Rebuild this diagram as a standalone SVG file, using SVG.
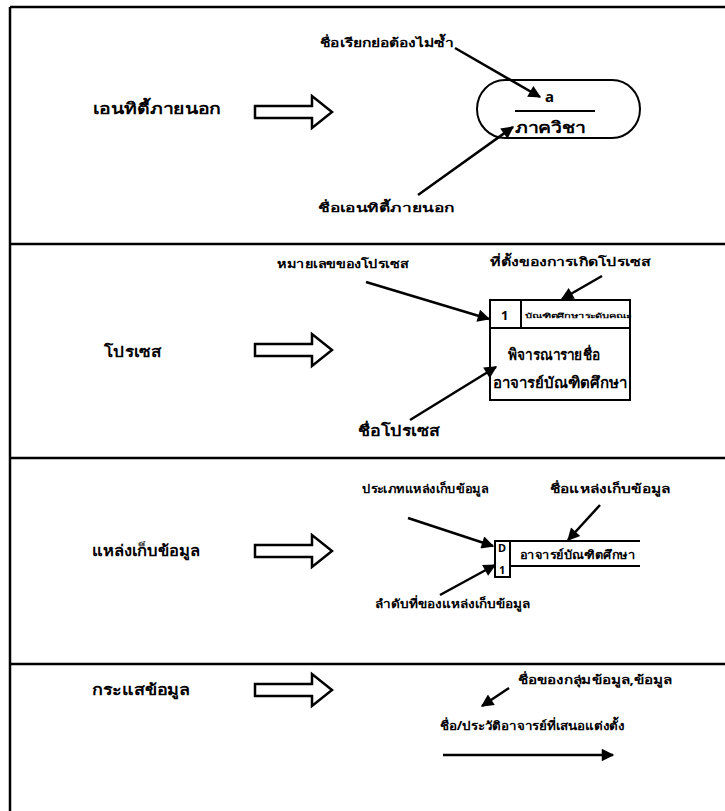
<svg xmlns="http://www.w3.org/2000/svg" width="725" height="811" viewBox="0 0 725 811">
<defs>
<style>
.t{font-family:"Noto Sans","DejaVu Sans",sans-serif;font-weight:bold;fill:#000}
.lb{font-size:15px}
.sm{font-size:12px}
.ln{stroke:#000;stroke-width:2.5;fill:none}
.sh{stroke:#000;stroke-width:2;fill:none}
.ha{stroke:#000;stroke-width:2.5;fill:#fff;stroke-linejoin:miter}
</style>
<marker id="ah" viewBox="0 0 10 10" refX="9" refY="5" markerWidth="6" markerHeight="5" orient="auto" markerUnits="strokeWidth">
<path d="M0,0 L10,5 L0,10 z" fill="#000"/>
</marker>
</defs>
<rect width="725" height="811" fill="#fff"/>
<g id="frame">
<line class="ln" x1="10" y1="7" x2="725" y2="7"/>
<line class="ln" x1="10" y1="7" x2="10" y2="811"/>
<line class="ln" x1="10" y1="244" x2="725" y2="244"/>
<line class="ln" x1="10" y1="458" x2="725" y2="458"/>
<line class="ln" x1="10" y1="664" x2="725" y2="664"/>
</g>
<g id="sec1">
<g id="lbl-entity"><text class="t lb" x="93" y="114" textLength="128" lengthAdjust="spacingAndGlyphs">เอนทิตี้ภายนอก</text></g>
<g id="harrow1"><polygon class="ha" points="255,106 312,106 312,96 332,112 312,128 312,118 255,118"/></g>
<g id="entity">
<path class="sh" d="M505,80 H612 A28,29 0 0 1 612,138 H505 A28,29 0 0 1 505,80 Z"/>
<line class="sh" x1="515" y1="111" x2="595" y2="111"/>
<text class="t lb" x="545" y="102">a</text>
<text class="t lb" x="515" y="133" textLength="70" lengthAdjust="spacingAndGlyphs">ภาควิชา</text>
</g>
<g id="note1a"><text class="t sm" x="320" y="47" textLength="134" lengthAdjust="spacingAndGlyphs">ชื่อเรียกย่อต้องไม่ซ้ำ</text></g>
<g id="note1b"><text class="t sm" x="318" y="212" textLength="136" lengthAdjust="spacingAndGlyphs">ชื่อเอนทิตี้ภายนอก</text></g>
</g>
<g id="sec2">
<g id="lbl-process"><text class="t lb" x="104" y="357" textLength="57" lengthAdjust="spacingAndGlyphs">โปรเซส</text></g>
<g id="harrow2"><polygon class="ha" points="255,344 312,344 312,334 332,350 312,366 312,356 255,356"/></g>
<g id="process">
<rect class="sh" x="490" y="300" width="140" height="100"/>
<line class="sh" x1="490" y1="328" x2="630" y2="328"/>
<line class="sh" x1="521" y1="300" x2="521" y2="328"/>
<text class="t" font-size="13" x="501" y="320">1</text>
<text class="t" font-size="6.5" x="525" y="318" textLength="106" lengthAdjust="spacingAndGlyphs">บัณฑิตศึกษาระดับคณะ</text>
<text class="t lb" x="508" y="360" textLength="92" lengthAdjust="spacingAndGlyphs">พิจารณารายชื่อ</text>
<text class="t lb" x="493" y="388" textLength="134" lengthAdjust="spacingAndGlyphs">อาจารย์บัณฑิตศึกษา</text>
</g>
<g id="note2a"><text class="t sm" x="277" y="268" textLength="131" lengthAdjust="spacingAndGlyphs">หมายเลขของโปรเซส</text></g>
<g id="note2b"><text class="t sm" x="490" y="266" textLength="160" lengthAdjust="spacingAndGlyphs">ที่ตั้งของการเกิดโปรเซส</text></g>
<g id="note2c"><text class="t lb" x="358" y="436" textLength="82" lengthAdjust="spacingAndGlyphs">ชื่อโปรเซส</text></g>
</g>
<g id="sec3">
<g id="lbl-store"><text class="t lb" x="92" y="556" textLength="108" lengthAdjust="spacingAndGlyphs">แหล่งเก็บข้อมูล</text></g>
<g id="harrow3"><polygon class="ha" points="255,545 312,545 312,535 332,551 312,567 312,557 255,557"/></g>
<g id="store">
<path class="sh" d="M640,541 H495 V577 H510 V541 M510,566 H640"/>
<text class="t" font-size="11" x="498" y="552">D</text>
<text class="t" font-size="11" x="499" y="574">1</text>
<text class="t sm" x="520" y="559" textLength="115" lengthAdjust="spacingAndGlyphs">อาจารย์บัณฑิตศึกษา</text>
</g>
<g id="note3a"><text class="t sm" x="362" y="493" textLength="126" lengthAdjust="spacingAndGlyphs">ประเภทแหล่งเก็บข้อมูล</text></g>
<g id="note3b"><text class="t sm" x="550" y="493" textLength="120" lengthAdjust="spacingAndGlyphs">ชื่อแหล่งเก็บข้อมูล</text></g>
<g id="note3c"><text class="t sm" x="375" y="608" textLength="155" lengthAdjust="spacingAndGlyphs">ลำดับที่ของแหล่งเก็บข้อมูล</text></g>
</g>
<g id="sec4">
<g id="lbl-flow"><text class="t lb" x="92" y="695" textLength="98" lengthAdjust="spacingAndGlyphs">กระแสข้อมูล</text></g>
<g id="harrow4"><polygon class="ha" points="255,684 312,684 312,674 332,690 312,706 312,696 255,696"/></g>
<g id="note4a"><text class="t sm" x="518" y="684" textLength="154" lengthAdjust="spacingAndGlyphs">ชื่อของกลุ่มข้อมูล,ข้อมูล</text></g>
<g id="flowlabel"><text class="t sm" x="440" y="730" textLength="185" lengthAdjust="spacingAndGlyphs">ชื่อ/ประวัติอาจารย์ที่เสนอแต่งตั้ง</text></g>
</g>
<g id="connectors">
<line class="ln" x1="455" y1="48" x2="540" y2="97" marker-end="url(#ah)"/>
<line class="ln" x1="418" y1="195" x2="513" y2="127" marker-end="url(#ah)"/>
<line class="ln" x1="366" y1="282" x2="489" y2="319" marker-end="url(#ah)"/>
<line class="ln" x1="602" y1="276" x2="562" y2="299" marker-end="url(#ah)"/>
<line class="ln" x1="410" y1="420" x2="496" y2="367" marker-end="url(#ah)"/>
<line class="ln" x1="408" y1="518" x2="493" y2="546" marker-end="url(#ah)"/>
<line class="ln" x1="600" y1="505" x2="568" y2="540" marker-end="url(#ah)"/>
<line class="ln" x1="440" y1="595" x2="495" y2="565" marker-end="url(#ah)"/>
<line class="ln" x1="509" y1="688" x2="482" y2="706" marker-end="url(#ah)"/>
<line class="ln" x1="443" y1="755" x2="613" y2="755" marker-end="url(#ah)"/>
</g>
</svg>
